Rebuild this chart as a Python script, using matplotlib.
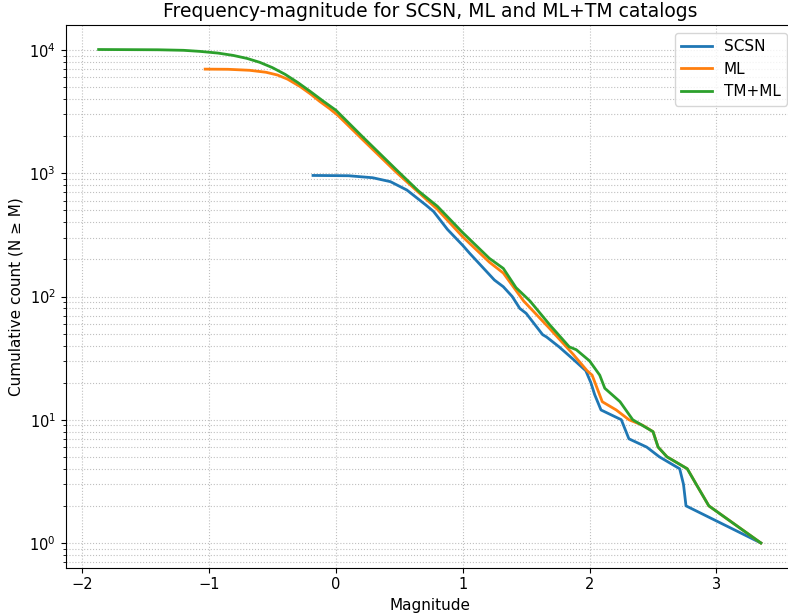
import numpy as np
import matplotlib
matplotlib.use("Agg")
import matplotlib.pyplot as plt

# magnitude / cumulative count (N >= M)
scsn_mag = [-0.18, 0.10, 0.29, 0.43, 0.56, 0.71, 0.77, 0.88, 1.00, 1.055, 1.25, 1.32,
            1.39, 1.45, 1.50, 1.63, 1.66, 1.76, 1.87, 1.97, 2.01, 2.04, 2.09, 2.25,
            2.31, 2.45, 2.55, 2.71, 2.74, 2.76, 3.35]
scsn_n = [960, 955, 920, 855, 731, 552, 490, 350, 260, 224, 136, 120,
          100, 80, 73, 49, 47, 39, 31, 25, 20, 16, 12, 10,
          7, 6, 5, 4, 3, 2, 1]

ml_mag = [-1.03, -0.85, -0.68, -0.55, -0.46, -0.38, -0.28, -0.2, -0.13, -0.05, 0.016,
          0.21, 0.48, 0.80, 1.00, 1.21, 1.32, 1.48, 1.685, 1.87, 1.98, 2.02, 2.10,
          2.21, 2.31, 2.42, 2.50, 2.54, 2.61, 2.77, 2.84, 2.94, 3.35]
ml_n = [7000, 6980, 6850, 6600, 6270, 5800, 5040, 4400, 3850, 3350, 2950,
        1880, 1010, 510, 305, 190, 155, 92, 55, 34, 25, 23, 14,
        12, 10, 9, 8, 6, 5, 4, 3, 2, 1]

tm_mag = [-1.87, -1.40, -1.20, -1.07, -0.93, -0.81, -0.70, -0.60, -0.50, -0.40, -0.30,
          -0.20, -0.10, 0.00, 0.21, 0.48, 0.65, 0.80, 1.00, 1.21, 1.32, 1.42, 1.53,
          1.685, 1.84, 1.895, 2.00, 2.08, 2.12, 2.24, 2.34, 2.50, 2.54, 2.61, 2.77,
          2.84, 2.94, 3.35]
tm_n = [10100, 10050, 9950, 9750, 9450, 9050, 8550, 7950, 7200, 6350, 5450,
        4600, 3850, 3250, 1980, 1060, 720, 540, 330, 204, 169, 118, 92,
        59, 39, 37, 30, 23, 18, 14, 10, 8, 6, 5, 4,
        3, 2, 1]

W, H = 788, 613
fig = plt.figure(figsize=(W / 100, H / 100), dpi=100)
# axes run slightly past the right edge of the picture, as in the reference
ax = fig.add_axes([65.5 / W, (H - 567.6) / H, (794.6 - 65.5) / W, (567.6 - 25.4) / H])

ax.plot(scsn_mag, scsn_n, lw=2, label="SCSN")
ax.plot(ml_mag, ml_n, lw=2, label="ML")
ax.plot(tm_mag, tm_n, lw=2, label="TM+ML")

ax.set_yscale("log")
ax.set_xlim(-2.131, 3.616)
ax.set_ylim(10 ** -0.2, 10 ** 4.2)
ax.grid(True, which="both", ls=":", color="#b0b0b0", alpha=0.8)

ax.set_xlabel("Magnitude", fontsize=11)
ax.set_ylabel("Cumulative count (N \u2265 M)", fontsize=11)
ax.set_title("Frequency-magnitude for SCSN, ML and ML+TM catalogs", fontsize=13.5)
ax.tick_params(labelsize=10.5)
ax.legend(loc="upper right", fontsize=11)

fig.savefig("out.png", dpi=100)
